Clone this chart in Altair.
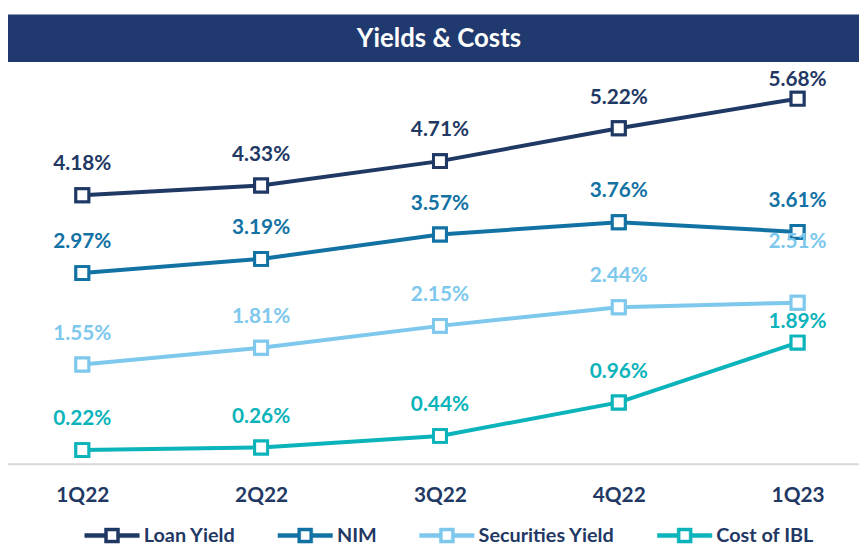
import altair as alt
import pandas as pd

quarters = ["1Q22", "2Q22", "3Q22", "4Q22", "1Q23"]
series_names = ["Loan Yield", "NIM", "Securities Yield", "Cost of IBL"]
loan_yield = [4.18, 4.33, 4.71, 5.22, 5.68]
nim = [2.97, 3.19, 3.57, 3.76, 3.61]
securities_yield = [1.55, 1.81, 2.15, 2.44, 2.51]
cost_of_ibl = [0.22, 0.26, 0.44, 0.96, 1.89]
title_text = "Yields & Costs"

colors = ["#1F3864", "#1372A4", "#7DC8EC", "#0BB3BA"]
NAVY = "#1F3864"
FONT = "Lato"

rows = []
for name, vals in zip(series_names, [loan_yield, nim, securities_yield, cost_of_ibl]):
    for q, v in zip(quarters, vals):
        rows.append({"quarter": q, "series": name, "value": v, "label": f"{v:.2f}%"})
df = pd.DataFrame(rows)

W, H = 859, 458
YDOM = [0, 7.05]

x_enc = alt.X("quarter:N", sort=quarters,
              scale=alt.Scale(type="point", domain=quarters, range=[75, 797], padding=0),
              axis=alt.Axis(title=None, ticks=False, domain=False, grid=False,
                            labelAngle=0, labelFont=FONT, labelFontSize=21,
                            labelFontWeight="bold", labelColor=NAVY, labelPadding=21))
y_enc = alt.Y("value:Q", scale=alt.Scale(domain=YDOM, nice=False, zero=True), axis=None)
color_scale = alt.Scale(domain=series_names, range=colors)

# legend symbol: line - hollow square - line (ring drawn with a hole)
LEGEND_SYMBOL = ("M-1,-0.075H-0.275V0.075H-1Z"
                 "M0.275,-0.075H1V0.075H0.275Z"
                 "M-0.275,-0.275H0.275V0.275H-0.275Z"
                 "M-0.165,-0.165V0.165H0.165V-0.165Z")

base = alt.Chart(df)

points_legend = base.mark_point(shape="square", filled=False, fill="white", fillOpacity=1,
                                opacity=1, size=170, strokeWidth=3).encode(
    x=x_enc, y=y_enc,
    color=alt.Color("series:N", scale=color_scale, sort=series_names,
                    legend=alt.Legend(
                        title=None, orient="none", direction="horizontal",
                        legendX=77, legendY=502,
                        symbolType=LEGEND_SYMBOL,
                        symbolSize=3025, symbolStrokeWidth=0.5,
                        symbolOpacity=1,
                        labelFont=FONT, labelFontSize=20, labelFontWeight="bold",
                        labelColor=NAVY, labelOffset=4, columnPadding=41)),
)

lines = base.mark_line(strokeWidth=4).encode(
    x=x_enc, y=y_enc,
    color=alt.Color("series:N", scale=color_scale, sort=series_names, legend=None),
)

points = base.mark_point(shape="square", filled=False, fill="white", fillOpacity=1,
                         opacity=1, size=170, strokeWidth=3).encode(
    x=x_enc, y=y_enc,
    color=alt.Color("series:N", scale=color_scale, sort=series_names, legend=None),
)

def labels(filter_expr, dy):
    return base.transform_filter(filter_expr).mark_text(
        dy=dy, font=FONT, fontSize=21, fontWeight="bold").encode(
        x=x_enc, y=y_enc, text="label:N",
        color=alt.Color("series:N", scale=color_scale, legend=None))

lab_main = labels("!(datum.quarter == '1Q23' && (datum.series == 'Loan Yield' || datum.series == 'Securities Yield' || datum.series == 'Cost of IBL'))", -31)
lab_loan = labels("datum.quarter == '1Q23' && datum.series == 'Loan Yield'", -19)
lab_sec = labels("datum.quarter == '1Q23' && datum.series == 'Securities Yield'", -61)
lab_cost = labels("datum.quarter == '1Q23' && datum.series == 'Cost of IBL'", -21)

baseline = alt.Chart(pd.DataFrame({"v": [0]})).mark_rule(color="#D9D9D9", strokeWidth=2).encode(
    x=alt.value(0), x2=alt.value(W),
    y=alt.Y("v:Q", scale=alt.Scale(domain=YDOM, nice=False), axis=None))

title_df = pd.DataFrame({"t": [title_text]})
title_bar = alt.Chart(title_df).mark_rect(color="#203A70").encode(
    x=alt.value(0), x2=alt.value(W), y=alt.value(4), y2=alt.value(52))
title_txt = alt.Chart(title_df).mark_text(color="white", font=FONT, fontSize=26,
                                          fontWeight="bold").encode(
    x=alt.value(435), y=alt.value(29), text="t:N")

chart = alt.layer(baseline, title_bar, title_txt, points_legend, lines, points,
                  lab_main, lab_loan, lab_sec, lab_cost).properties(
    width=W, height=H, background="white",
    padding={"left": 0, "top": 0, "right": 0, "bottom": 79},
    autosize=alt.AutoSizeParams(type="none"),
).configure_view(stroke=None)

chart.save("out.html", embed_options={"renderer": "svg", "actions": False})
